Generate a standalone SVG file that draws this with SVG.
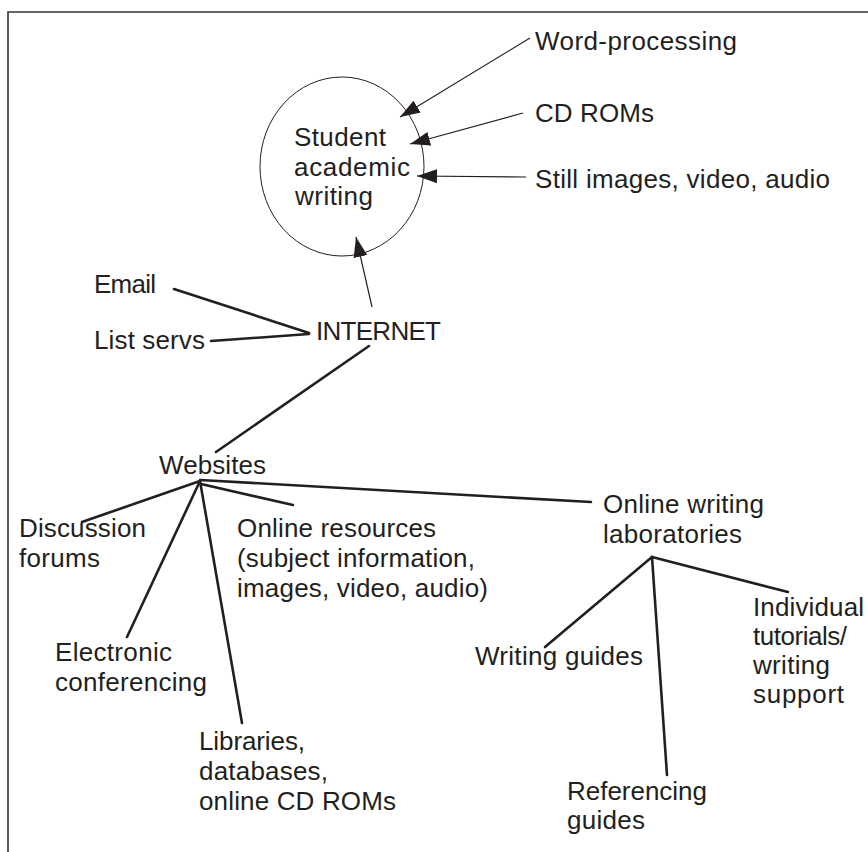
<svg xmlns="http://www.w3.org/2000/svg" width="868" height="852" viewBox="0 0 868 852">
<style>
text{font-family:"Liberation Sans",Arial,Helvetica,sans-serif;font-size:26px;fill:#231f20}
.thin{stroke:#231f20;stroke-width:1.2;fill:none}
.thick{stroke:#231f20;stroke-width:2.6;fill:none;stroke-linecap:round}
.frame{stroke:#333;stroke-width:1.6;fill:none}
</style>
<defs>
<marker id="ah" markerUnits="userSpaceOnUse" markerWidth="22" markerHeight="16" refX="20" refY="7" orient="auto">
<path d="M0,0 L20,7 L0,14 z" fill="#231f20"/>
</marker>
</defs>
<rect width="868" height="852" fill="#fff"/>
<path class="frame" d="M868,12 H8 V852"/>

<g id="connectors">
<line class="thin" x1="530" y1="38" x2="400" y2="117" marker-end="url(#ah)"/>
<line class="thin" x1="523" y1="113" x2="410" y2="144" marker-end="url(#ah)"/>
<line class="thin" x1="526" y1="177" x2="417" y2="176" marker-end="url(#ah)"/>
<line class="thin" x1="372" y1="307" x2="356" y2="237" marker-end="url(#ah)"/>
<line class="thick" x1="174" y1="289" x2="309" y2="333"/>
<line class="thick" x1="211" y1="341" x2="309" y2="334"/>
<line class="thick" x1="369" y1="346" x2="216" y2="452"/>
<line class="thick" x1="200" y1="481" x2="82" y2="522"/>
<line class="thick" x1="200" y1="481" x2="127" y2="637"/>
<line class="thick" x1="200" y1="481" x2="242" y2="723"/>
<line class="thick" x1="201" y1="484" x2="293" y2="505"/>
<line class="thick" x1="200" y1="480" x2="591" y2="502"/>
<line class="thick" x1="652" y1="557" x2="545" y2="647"/>
<line class="thick" x1="652" y1="557" x2="788" y2="592"/>
<line class="thick" x1="652" y1="557" x2="667" y2="775"/>
</g>

<g id="student-writing">
<ellipse cx="342" cy="166.5" rx="82" ry="89.5" fill="none" stroke="#231f20" stroke-width="1"/>
<text x="294" y="146" textLength="92" lengthAdjust="spacing">Student</text>
<text x="294" y="176" textLength="116" lengthAdjust="spacing">academic</text>
<text x="295" y="205" textLength="78" lengthAdjust="spacing">writing</text>
</g>
<g id="word-processing"><text x="535" y="50" textLength="202" lengthAdjust="spacing">Word-processing</text></g>
<g id="cd-roms"><text x="535" y="122" textLength="119" lengthAdjust="spacing">CD ROMs</text></g>
<g id="still-images"><text x="535" y="188" textLength="295" lengthAdjust="spacing">Still images, video, audio</text></g>
<g id="email"><text x="94" y="293" textLength="62" lengthAdjust="spacing">Email</text></g>
<g id="list-servs"><text x="94" y="349" textLength="111" lengthAdjust="spacing">List servs</text></g>
<g id="internet"><text x="316" y="340" textLength="125" lengthAdjust="spacing">INTERNET</text></g>
<g id="websites"><text x="159" y="474" textLength="107" lengthAdjust="spacing">Websites</text></g>
<g id="discussion-forums">
<text x="19" y="537" textLength="127" lengthAdjust="spacing">Discussion</text>
<text x="19" y="567" textLength="81" lengthAdjust="spacing">forums</text>
</g>
<g id="online-resources">
<text x="237" y="537" textLength="199" lengthAdjust="spacing">Online resources</text>
<text x="237" y="567" textLength="238" lengthAdjust="spacing">(subject information,</text>
<text x="237" y="597" textLength="251" lengthAdjust="spacing">images, video, audio)</text>
</g>
<g id="online-writing-labs">
<text x="603" y="513" textLength="161" lengthAdjust="spacing">Online writing</text>
<text x="603" y="543" textLength="139" lengthAdjust="spacing">laboratories</text>
</g>
<g id="electronic-conferencing">
<text x="55" y="661" textLength="117" lengthAdjust="spacing">Electronic</text>
<text x="55" y="691" textLength="152" lengthAdjust="spacing">conferencing</text>
</g>
<g id="libraries">
<text x="199" y="750" textLength="106" lengthAdjust="spacing">Libraries,</text>
<text x="199" y="780" textLength="129" lengthAdjust="spacing">databases,</text>
<text x="199" y="810" textLength="197" lengthAdjust="spacing">online CD ROMs</text>
</g>
<g id="writing-guides"><text x="475" y="665" textLength="168" lengthAdjust="spacing">Writing guides</text></g>
<g id="individual-tutorials">
<text x="753" y="616" textLength="111" lengthAdjust="spacing">Individual</text>
<text x="753" y="645" textLength="94" lengthAdjust="spacing">tutorials/</text>
<text x="753" y="674" textLength="77" lengthAdjust="spacing">writing</text>
<text x="753" y="703" textLength="91" lengthAdjust="spacing">support</text>
</g>
<g id="referencing-guides">
<text x="567" y="800" textLength="140" lengthAdjust="spacing">Referencing</text>
<text x="567" y="829" textLength="78" lengthAdjust="spacing">guides</text>
</g>
</svg>
